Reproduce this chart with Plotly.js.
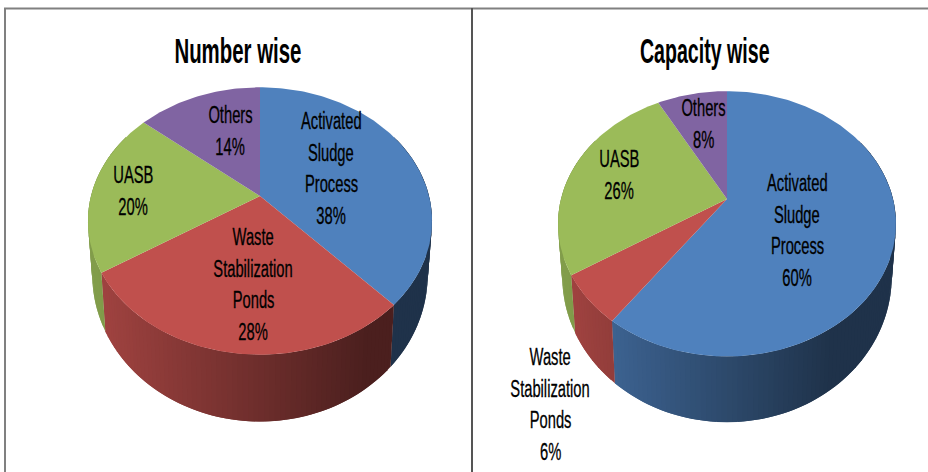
<!DOCTYPE html>
<html><head><meta charset="utf-8">
<script src="https://cdn.plot.ly/plotly-3.0.1.min.js"></script>
<style>html,body{margin:0;padding:0;background:#fff}#c{width:928px;height:472px}</style>
</head><body><div id="c"></div>
<script>
// ---- data
const categories = ['Activated Sludge Process', 'Waste Stabilization Ponds', 'UASB', 'Others'];
const numberWise = [38, 28, 20, 14];
const capacityWise = [60, 6, 26, 8];
const colors = [[79,129,189],[192,80,77],[155,187,89],[128,100,162]];
const chartTitles = ['Number wise', 'Capacity wise'];

// ---- drawing configuration (perspective of the two discs, label anchors)
const FONT = '"Liberation Sans",Arial,sans-serif';
const LABEL_SIZE = 23, TITLE_SIZE = 35, LABEL_SQUEEZE = 0.64, TITLE_SQUEEZE = [0.583, 0.56];
const discs = [
  {values:numberWise, cx:260, ay:196, rx:169, ry:129, by:247, titleX:238,
   anchors:[[331,121],[253,237],[133,175],[230,115]]},
  {values:capacityWise, cx:727, ay:199, rx:166, ry:128, by:249, titleX:705,
   anchors:[[797,183],[550,357],[619,159],[703,108]]}
];
const P = 0.187, BOTTOM_X = 0.975, BOTTOM_Y = 1.1, LINE_GAP = 31.7;

const rad = d => d*Math.PI/180;
function topPt(d, deg){ const s=Math.sin(rad(deg)), c=Math.cos(rad(deg)), w=1+P*c;
  return [d.cx + d.rx*s/w, d.ay - d.ry*c/w]; }
function botPt(d, deg){ const s=Math.sin(rad(deg)), c=Math.cos(rad(deg)), w=1+P*c;
  return [d.cx + BOTTOM_X*d.rx*s/w, d.by - BOTTOM_Y*d.ry*c/w]; }
function shade(d, deg){
  const s=Math.sin(rad(deg)), c=Math.cos(rad(deg));
  const n=s/(1+P*c);               // -1 left ... +1 right
  return Math.max(0.39, Math.min(0.84, 0.82 - (n+0.9)*0.28));
}
const rgb = (col,f)=>`rgb(${col.map(v=>Math.round(v*f)).join(',')})`;

const traces = [];
function poly(pts, color){
  traces.push({type:'scatter', mode:'lines', x:pts.map(p=>p[0]), y:pts.map(p=>p[1]),
    fill:'toself', fillcolor:color, line:{color:color, width:0},
    hoverinfo:'skip', showlegend:false});
}
const annotations = [];
function txt(x,y,t,size,bold){
  annotations.push({x, y, xref:'x', yref:'y', text:t, showarrow:false,
    xanchor:'center', yanchor:'middle',
    font:{family:FONT, size, color:'#000', weight:bold?700:400}});
}

discs.forEach((d,di)=>{
  const total=d.values.reduce((a,b)=>a+b,0);
  let start=0;
  const spans=d.values.map(v=>{const a=start; start+=v/total*360; return [a,start];});
  // side walls: each strip runs on under the next one so no seams show
  spans.forEach((sp,i)=>{
    const a0=Math.max(sp[0],60), a1=Math.min(sp[1],300);
    for(let a=a0; a<a1; a+=1.5){
      const b=Math.min(a+1.5,a1), over=Math.min(a+3,a1);
      const pts=[topPt(d,a),topPt(d,over),botPt(d,over),botPt(d,a)];
      poly(pts, rgb(colors[i],shade(d,(a+b)/2)));
    }
  });
  // top faces
  spans.forEach((sp,i)=>{
    const pts=[[d.cx,d.ay]];
    for(let a=sp[0]; a<sp[1]; a+=1) pts.push(topPt(d,a));
    pts.push(topPt(d,sp[1])); pts.push([d.cx,d.ay]);
    poly(pts, rgb(colors[i],1));
  });
  // labels
  spans.forEach((sp,i)=>{
    const lines=categories[i].split(' ').concat([d.values[i]+'%']);
    lines.forEach((l,k)=>txt(d.anchors[i][0], d.anchors[i][1]+k*LINE_GAP, l, LABEL_SIZE, false));
  });
  txt(d.titleX, 50.5, chartTitles[di], TITLE_SIZE, true);
});

const layout = {
  width:928, height:472, margin:{l:0,r:0,t:0,b:0},
  paper_bgcolor:'#fff', plot_bgcolor:'#fff', showlegend:false,
  xaxis:{range:[0,928], visible:false, fixedrange:true},
  yaxis:{range:[472,0], visible:false, fixedrange:true},
  annotations,
  shapes:[
    {type:'line',xref:'x',yref:'y',x0:4,x1:928,y0:8.5,y1:8.5,line:{color:'#808080',width:2}},
    {type:'line',xref:'x',yref:'y',x0:5,x1:5,y0:8,y1:472,line:{color:'#808080',width:2}},
    {type:'line',xref:'x',yref:'y',x0:472,x1:472,y0:8,y1:472,line:{color:'#555555',width:2}}
  ]
};
Plotly.newPlot('c', traces, layout, {displayModeBar:false, staticPlot:true}).then(gd=>{
  // The reference's Calibri-like lettering is tall and narrow: squeeze the real text horizontally.
  gd.querySelectorAll('.annotation-text').forEach(el=>{
    const ti = chartTitles.indexOf(el.textContent);
    const w = el.getComputedTextLength();
    el.setAttribute('lengthAdjust','spacingAndGlyphs');
    el.setAttribute('textLength', (w*(ti>=0?TITLE_SQUEEZE[ti]:LABEL_SQUEEZE)).toFixed(1));
    if(ti<0){ el.style.stroke='#000'; el.style.strokeWidth='0.3px'; }
  });
});
</script></body></html>
